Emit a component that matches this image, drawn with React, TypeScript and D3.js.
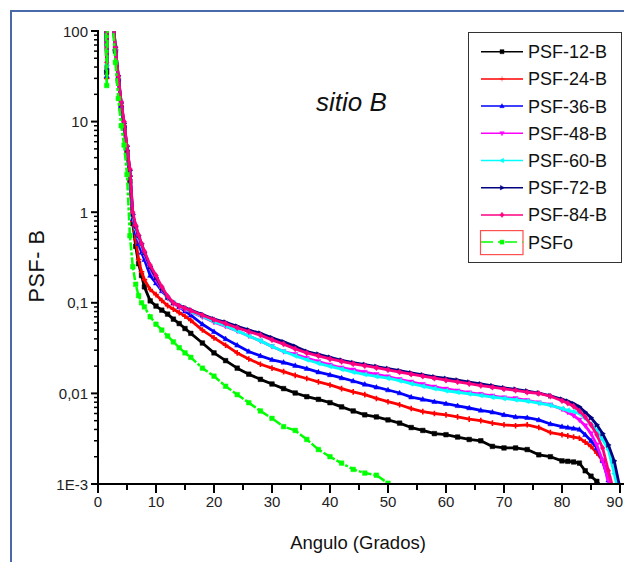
import React from "react";
import * as d3 from "d3";

const xs = [1,1.5,2,2.5,3,3.5,4,4.5,5,5.5,6,6.5,7,7.5,8,9,10,11,12,13,14,15,16,18,20,22,24,26,28,30,32,34,36,38,40,42,44,46,48,50,52,54,56,58,60,62,64,66,68,70,72,74,76,78,80,81,82,83,84,85,86,87,88,89,90];

const psf12 = [2000,35,2000,140,60,28,14,8.5,4.5,2.2,0.75,0.42,0.27,0.2,0.15,
  0.105,0.092,0.083,0.075,0.066,0.059,0.052,0.046,
  0.036,0.028,0.023,0.019,0.0163,0.0143,0.0127,0.0113,0.0101,0.0092,0.0086,0.0079,0.0071,0.0064,0.0058,0.0055,0.0051,0.0047,0.0042,0.0039,0.0036,0.0035,0.0033,0.0031,0.0030,0.0026,0.0025,0.0025,0.0024,0.0021,0.0020,0.0018,
  0.00178,0.00175,0.0017,0.0014,0.00122,0.00107,0.0009,null,null,null];
const psf24 = [2000,30,2000,150,62,30,15,9,4.8,2.5,0.8,0.5,0.3,0.22,0.18,
  0.14,0.123,0.106,0.093,0.085,0.078,0.071,0.064,
  0.050,0.041,0.034,0.028,0.024,0.021,0.019,0.0174,0.0158,0.0146,0.0134,0.0124,0.0113,0.0104,0.0097,0.0088,0.0081,0.0075,0.0068,0.0063,0.0060,0.0058,0.0055,0.0052,0.0050,0.0047,0.0045,0.0044,0.0045,0.0042,0.0037,0.0035,
  0.0034,0.0033,0.0032,0.0029,0.0026,0.0022,0.0018,0.0012,0.0008,null];
const psf36 = [2000,32,2000,150,63,30,15,9,5,2.6,0.85,0.6,0.45,0.36,0.3,
  0.2,0.165,0.135,0.115,0.1,0.09,0.081,0.073,
  0.058,0.048,0.04,0.034,0.029,0.026,0.0235,0.022,0.0203,0.0188,0.0172,0.016,0.0148,0.0137,0.0126,0.0117,0.0109,0.0101,0.0091,0.0086,0.0081,0.0077,0.0073,0.0069,0.0065,0.0062,0.0058,0.0055,0.0054,0.0051,0.0046,0.0043,
  0.0042,0.0041,0.004,0.0035,0.003,0.0025,0.0018,0.0011,0.0007,null];
const psf48 = [2000,40,2000,160,65,31,16,9.5,5.2,2.8,0.9,0.65,0.5,0.42,0.34,
  0.24,0.18,0.14,0.112,0.098,0.09,0.084,0.079,
  0.07,0.061,0.055,0.049,0.043,0.038,0.033,0.029,0.027,0.0245,0.0225,0.0207,0.0192,0.0182,0.0172,0.0162,0.0153,0.0143,0.0134,0.0126,0.0118,0.0112,0.0107,0.0102,0.0098,0.0094,0.009,0.0088,0.0084,0.0079,0.0075,0.0067,
  0.0062,0.0057,0.0051,0.0044,0.0036,0.0027,0.0018,0.0011,0.0007,null];
const psf60 = [2000,42,2000,160,65,31,16,9.5,5.2,2.8,0.92,0.66,0.52,0.43,0.35,
  0.25,0.19,0.145,0.113,0.1,0.092,0.086,0.08,
  0.071,0.062,0.056,0.049,0.043,0.038,0.033,0.029,0.026,0.0235,0.0215,0.0199,0.0185,0.0172,0.0162,0.0154,0.0147,0.0138,0.0128,0.012,0.0113,0.0107,0.0103,0.0099,0.0095,0.0091,0.0088,0.0085,0.0082,0.0078,0.0074,0.0068,
  0.0065,0.0063,0.006,0.0053,0.0046,0.0039,0.0031,0.0024,0.0013,0.0007];
const psf72 = [2000,38,2000,165,66,32,16,9.5,5.3,2.9,0.95,0.7,0.55,0.45,0.36,
  0.25,0.19,0.145,0.115,0.1,0.093,0.088,0.083,
  0.074,0.066,0.061,0.055,0.05,0.046,0.041,0.037,0.033,0.029,0.027,0.025,0.0232,0.0218,0.0208,0.0198,0.0188,0.0178,0.0168,0.016,0.0152,0.0146,0.014,0.0133,0.0127,0.0121,0.0115,0.0111,0.0106,0.0101,0.0094,0.0086,
  0.0082,0.0077,0.0071,0.0062,0.0054,0.0045,0.0036,0.0027,0.0018,0.0009];
const psf84 = [2000,45,2000,160,66,32,16.5,10,5.4,3,1.0,0.72,0.56,0.45,0.37,
  0.26,0.2,0.15,0.118,0.1,0.092,0.087,0.082,
  0.073,0.065,0.059,0.053,0.048,0.044,0.039,0.035,0.031,0.028,0.026,0.024,0.0225,0.0212,0.0202,0.0192,0.0182,0.0172,0.0163,0.0155,0.0147,0.014,0.0134,0.0128,0.0122,0.0117,0.0112,0.0108,0.0103,0.0100,0.0093,0.0083,
  0.0078,0.0072,0.0064,0.0055,0.0045,0.0035,0.0025,0.0014,0.0008,null];
const psfo = [2000,25,2000,130,45,18,9,5.5,2.6,0.55,0.25,0.16,0.12,0.1,0.09,
  0.07,0.058,0.05,0.043,0.037,0.032,0.028,0.025,
  0.019,0.0155,0.012,0.0097,0.0079,0.0064,0.0053,0.0043,0.0039,0.0031,0.0024,0.0020,0.0017,0.00145,0.00132,0.00125,0.00102,0.0008,null,null,null,null,null,null,null,null,null,null,null,null,null,null,
  null,null,null,null,null,null,null,null,null,null];

const seriesNames = ["PSF-12-B","PSF-24-B","PSF-36-B","PSF-48-B","PSF-60-B","PSF-72-B","PSF-84-B","PSFo"];
const seriesData = [psf12, psf24, psf36, psf48, psf60, psf72, psf84, psfo];
const colors = ["#000000","#ff0000","#0000ff","#ff00ff","#00ffff","#000080","#ff0080","#00ff00"];
const markerKinds = ["square","plus","up","down","left","right","diamond","square"];

const xTicks = [0,10,20,30,40,50,60,70,80,90];
const xMinor = [5,15,25,35,45,55,65,75,85];
const yTicks = [100,10,1,0.1,0.01,0.001];
const yTickLabels = ["100","10","1","0,1","0,01","1E-3"];

const FONT = "'Liberation Sans', Arial, sans-serif";

function markerPath(kind: string, r: number) {
  switch (kind) {
    case "square": return `M${-r},${-r}h${2*r}v${2*r}h${-2*r}Z`;
    case "plus": return `M0,${-r-0.5}V${r+0.5}M${-r-0.5},0H${r+0.5}`;
    case "up": return `M0,${-r*1.2}L${r*1.1},${r*0.8}L${-r*1.1},${r*0.8}Z`;
    case "down": return `M0,${r*1.2}L${r*1.1},${-r*0.8}L${-r*1.1},${-r*0.8}Z`;
    case "left": return `M${-r*1.2},0L${r*0.8},${-r*1.1}L${r*0.8},${r*1.1}Z`;
    case "right": return `M${r*1.2},0L${-r*0.8},${-r*1.1}L${-r*0.8},${r*1.1}Z`;
    case "diamond": return `M0,${-r*1.3}L${r},0L0,${r*1.3}L${-r},0Z`;
  }
  return "";
}

export default function App() {
  const x = d3.scaleLinear().domain([0, 90]).range([98, 620]);
  const y = d3.scaleLog().domain([1e-3, 100]).range([484, 31]);
  const yMinor: number[] = [];
  for (let e = -3; e < 2; e++) for (let k = 2; k <= 9; k++) yMinor.push(k * Math.pow(10, e));

  const line = d3.line<number | null>()
    .defined((v) => v != null)
    .x((_, i) => x(xs[i]))
    .y((v) => y(v as number));

  return (
    <svg width={624} height={562} style={{ position: "absolute", left: 0, top: 0, background: "#fff" }} fontFamily={FONT}>
      <rect x={0} y={0} width={624} height={562} fill="#fff" />
      <defs>
        <clipPath id="plotclip"><rect x={98} y={31} width={526} height={453} /></clipPath>
      </defs>
      {/* frame */}
      <line x1={10} y1={11} x2={624} y2={11} stroke="#4a69a8" strokeWidth={2} />
      <line x1={11} y1={10} x2={11} y2={562} stroke="#4a69a8" strokeWidth={2} />

      <g clipPath="url(#plotclip)">
        {seriesData.map((vals, si) => (
          <g key={si}>
            <path d={line(vals) || ""} fill="none" stroke={colors[si]} strokeWidth={si === 7 ? 2.5 : 2.8}
              strokeLinejoin="round"
              strokeDasharray={si === 7 ? "8,2,3,2" : undefined} />
            {vals.map((v, i) => v == null ? null : (
              <path key={i} transform={`translate(${x(xs[i])},${y(v)})`} d={markerPath(markerKinds[si], 2.3)}
                fill={colors[si]} stroke={colors[si]} strokeWidth={markerKinds[si] === "plus" ? 1.6 : 0.5} />
            ))}
          </g>
        ))}
      </g>

      {/* axes */}
      <line x1={98} y1={30} x2={98} y2={485} stroke="#000" strokeWidth={2} />
      <line x1={97} y1={484} x2={624} y2={484} stroke="#000" strokeWidth={2} />
      {yTicks.map((t, i) => (
        <g key={"yt" + i}>
          <line x1={91} x2={98} y1={y(t)} y2={y(t)} stroke="#000" strokeWidth={2} />
          <text x={88} y={y(t) + 5.5} textAnchor="end" fontSize={15} fill="#222">{yTickLabels[i]}</text>
        </g>
      ))}
      {yMinor.map((t, i) => (
        <line key={"ym" + i} x1={94} x2={98} y1={y(t)} y2={y(t)} stroke="#000" strokeWidth={1.5} />
      ))}
      {xTicks.map((t, i) => (
        <g key={"xt" + i}>
          <line x1={x(t)} x2={x(t)} y1={484} y2={493} stroke="#000" strokeWidth={2} />
          <text x={t === 90 ? 623 : x(t)} y={507} textAnchor={t === 90 ? "end" : "middle"} fontSize={15} fill="#222">{String(t)}</text>
        </g>
      ))}
      {xMinor.map((t, i) => (
        <line key={"xm" + i} x1={x(t)} x2={x(t)} y1={484} y2={490} stroke="#000" strokeWidth={2} />
      ))}

      <text x={358} y={549} textAnchor="middle" fontSize={18.5} fill="#111">Angulo (Grados)</text>
      <text transform="translate(44,266) rotate(-90)" textAnchor="middle" fontSize={21.5} letterSpacing={0.6} fill="#111">PSF- B</text>
      <text x={316} y={111} fontSize={26} fontStyle="italic" fill="#111">sitio B</text>

      {/* legend */}
      <rect x={468.5} y={32.5} width={153} height={230} fill="#fff" stroke="#333" strokeWidth={1} />
      {seriesNames.map((name, i) => {
        const ly = 51.7 + i * 27.2;
        return (
          <g key={"lg" + i}>
            {i === 7 && <rect x={480.5} y={ly - 11.5} width={42.5} height={24} fill="none" stroke="#ff5050" strokeWidth={1.2} />}
            <line x1={481} x2={523} y1={ly} y2={ly} stroke={colors[i]} strokeWidth={1.5}
              strokeDasharray={i === 7 ? "12,5,2,5" : undefined} />
            <path transform={`translate(502,${ly})`} d={markerPath(markerKinds[i], 2)} fill={colors[i]} stroke={colors[i]} strokeWidth={0.5} />
            <text x={528} y={ly + 6.5} fontSize={18} fill="#111">{name}</text>
          </g>
        );
      })}
    </svg>
  );
}
